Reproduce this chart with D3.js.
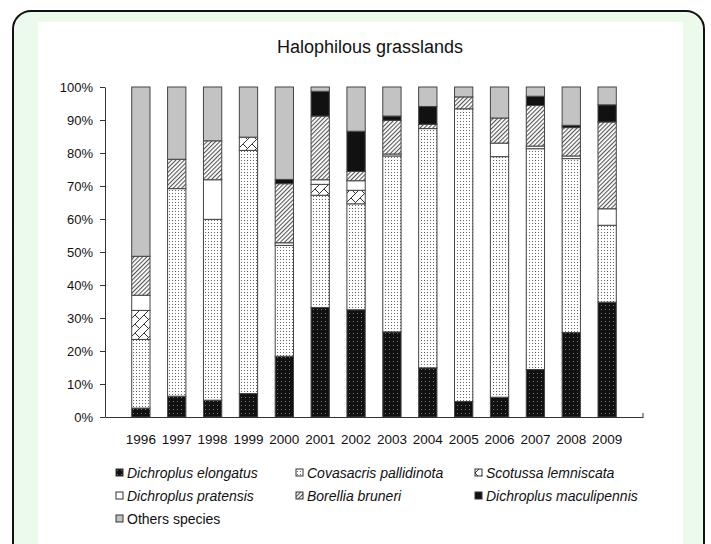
<!DOCTYPE html>
<html>
<head>
<meta charset="utf-8">
<script src="https://cdn.jsdelivr.net/npm/d3@7"></script>
<style>
  body { margin: 0; background: #fff; }
  svg { display: block; font-family: 'Liberation Sans', Arial, sans-serif; }
</style>
</head>
<body>
<svg id="chart" width="711" height="544"></svg>
<script>
// values (% of individuals per year)
const years = ['1996', '1997', '1998', '1999', '2000', '2001', '2002', '2003', '2004', '2005', '2006', '2007', '2008', '2009'];
const species = ['Dichroplus elongatus', 'Covasacris pallidinota', 'Scotussa lemniscata', 'Dichroplus pratensis', 'Borellia bruneri', 'Dichroplus maculipennis', 'Others species'];

const elongatus    = [2.7, 6.3, 5.1, 7.1, 18.4, 33.2, 32.5, 25.8, 14.9, 4.7, 6.0, 14.4, 25.6, 34.8];
const pallidinota  = [20.8, 62.9, 54.8, 73.7, 33.6, 34.0, 32.1, 53.3, 72.5, 88.7, 72.9, 66.9, 52.7, 23.3];
const lemniscata   = [8.8, 0, 0, 4.0, 0, 3.3, 4.1, 0, 0, 0, 0, 0, 0, 0];
const pratensis    = [4.6, 0, 12.0, 0, 0.8, 1.4, 2.9, 0.6, 0, 0, 4.1, 0.8, 0.8, 5.0];
const bruneri      = [11.8, 8.9, 11.8, 0, 17.9, 19.3, 2.8, 10.2, 1.3, 3.6, 7.6, 12.3, 8.6, 26.3];
const maculipennis = [0, 0, 0, 0, 1.3, 7.5, 12.2, 1.3, 5.4, 0, 0, 2.8, 0.7, 5.2];
const others       = [51.3, 21.9, 16.3, 15.2, 28.0, 1.3, 13.4, 8.8, 5.9, 3.0, 9.4, 2.8, 11.6, 5.4];

const seriesValues = [elongatus, pallidinota, lemniscata, pratensis, bruneri, maculipennis, others];
const yTicks = [0, 10, 20, 30, 40, 50, 60, 70, 80, 90, 100];

const table = years.map((yr, i) => {
  const row = { year: yr };
  species.forEach((s, k) => { row[s] = seriesValues[k][i]; });
  return row;
});

const svg = d3.select('#chart');

// page frame
svg.append('rect')
  .attr('x', 13).attr('y', 11)
  .attr('width', 691).attr('height', 560)
  .attr('rx', 18).attr('ry', 18)
  .attr('fill', '#ecfaec')
  .attr('stroke', '#111')
  .attr('stroke-width', 2);

svg.append('rect')
  .attr('x', 38).attr('y', 22)
  .attr('width', 645).attr('height', 530)
  .attr('fill', '#fff');

// fill patterns
const defs = svg.append('defs');

let p = defs.append('pattern').attr('id', 'p-elong')
  .attr('patternUnits', 'userSpaceOnUse').attr('width', 4).attr('height', 4);
p.append('rect').attr('width', 4).attr('height', 4).attr('fill', '#111');
p.append('rect').attr('x', 1).attr('y', 1).attr('width', 1).attr('height', 1).attr('fill', '#777');

p = defs.append('pattern').attr('id', 'p-pall')
  .attr('patternUnits', 'userSpaceOnUse').attr('width', 3).attr('height', 3);
p.append('rect').attr('width', 3).attr('height', 3).attr('fill', '#fff');
p.append('rect').attr('x', 1).attr('y', 1).attr('width', 1).attr('height', 1).attr('fill', '#666');

p = defs.append('pattern').attr('id', 'p-lemn')
  .attr('patternUnits', 'userSpaceOnUse').attr('width', 9).attr('height', 9);
p.append('rect').attr('width', 9).attr('height', 9).attr('fill', '#fff');
p.append('path').attr('d', 'M-1,10L10,-1M0,0L4.5,4.5')
  .attr('stroke', '#333').attr('stroke-width', 1).attr('fill', 'none');

p = defs.append('pattern').attr('id', 'p-brun')
  .attr('patternUnits', 'userSpaceOnUse').attr('width', 3).attr('height', 3)
  .attr('patternTransform', 'rotate(45)');
p.append('rect').attr('width', 3).attr('height', 3).attr('fill', '#fff');
p.append('rect').attr('width', 1.1).attr('height', 3).attr('fill', '#555');

const fills = ['url(#p-elong)', 'url(#p-pall)', 'url(#p-lemn)', '#fff', 'url(#p-brun)', '#111', '#c3c3c3'];
const color = d3.scaleOrdinal().domain(species).range(fills);

// scales
const x = d3.scaleBand()
  .domain(years)
  .range([105, 643])
  .paddingInner(0.49)
  .paddingOuter(0.745);

const y = d3.scaleLinear()
  .domain([0, 100])
  .range([417, 87]);

// title
svg.append('text')
  .attr('x', 370).attr('y', 53)
  .attr('text-anchor', 'middle')
  .attr('font-size', 18)
  .attr('fill', '#111')
  .text('Halophilous grasslands');

// stacked bars
const stacked = d3.stack().keys(species)(table);

svg.append('g')
  .selectAll('g')
  .data(stacked)
  .enter()
  .append('g')
  .attr('fill', d => color(d.key))
  .selectAll('rect')
  .data(d => d.filter(v => v[1] - v[0] > 0))
  .enter()
  .append('rect')
  .attr('x', d => x(d.data.year))
  .attr('y', d => y(d[1]))
  .attr('width', x.bandwidth())
  .attr('height', d => y(d[0]) - y(d[1]))
  .attr('stroke', '#444')
  .attr('stroke-width', 1);

// axes
const yAxis = svg.append('g')
  .attr('transform', 'translate(105,0)')
  .call(d3.axisLeft(y).tickValues(yTicks).tickFormat(d => d + '%').tickSize(5).tickSizeOuter(0).tickPadding(7));
yAxis.selectAll('path, line').attr('stroke', '#333');
yAxis.selectAll('text').attr('font-size', 13).attr('fill', '#111').attr('font-family', 'Liberation Sans, Arial, sans-serif');

const xAxis = svg.append('g')
  .attr('transform', 'translate(0,417)')
  .call(d3.axisBottom(x).tickSize(0).tickSizeOuter(0).tickPadding(17));
xAxis.select('path').attr('stroke', '#333');
xAxis.selectAll('text').attr('font-size', 13.5).attr('fill', '#111').attr('font-family', 'Liberation Sans, Arial, sans-serif');

// small end tick on the category axis
svg.append('line')
  .attr('x1', 643).attr('x2', 643)
  .attr('y1', 417).attr('y2', 413)
  .attr('stroke', '#333');

// legend
const legendCols = [116, 296, 475];
const legendRows = [473, 496, 519];

const legend = svg.append('g')
  .selectAll('g')
  .data(species)
  .enter()
  .append('g')
  .attr('transform', (d, i) => `translate(${legendCols[i % 3]},${legendRows[Math.floor(i / 3)]})`);

legend.append('rect')
  .attr('x', 0).attr('y', -4)
  .attr('width', 7).attr('height', 7)
  .attr('fill', d => color(d))
  .attr('stroke', '#333')
  .attr('stroke-width', 1);

legend.append('text')
  .attr('x', 11).attr('y', 5)
  .attr('font-size', 14)
  .attr('fill', '#111')
  .attr('font-style', (d, i) => i < 6 ? 'italic' : 'normal')
  .text(d => d);
</script>
</body>
</html>
